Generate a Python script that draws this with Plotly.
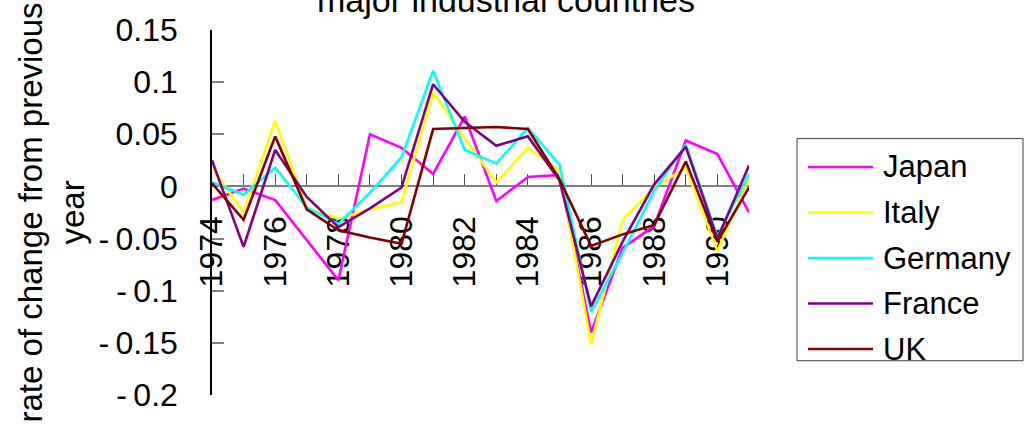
import plotly.graph_objects as go

# Annual rate of change from previous year, 1974-1991
years = list(range(1974, 1992))
countries = ["Japan", "Italy", "Germany", "France", "UK"]
colors = ["#FF00FF", "#FFFF00", "#00FFFF", "#800080", "#800000"]

japan = [-0.013, -0.002, -0.013, -0.052, -0.090, 0.050, 0.037, 0.012, 0.067,
         -0.014, 0.009, 0.011, -0.140, -0.059, -0.038, 0.044, 0.031, -0.025]
italy = [0.018, -0.025, 0.063, -0.021, -0.031, -0.022, -0.015, 0.090, 0.046,
         0.004, 0.037, 0.015, -0.151, -0.032, -0.001, 0.018, -0.062, 0.008]
germany = [0.004, -0.008, 0.018, -0.020, -0.036, -0.006, 0.028, 0.111, 0.035,
           0.022, 0.056, 0.021, -0.120, -0.064, -0.004, 0.040, -0.048, 0.012]
france = [0.025, -0.058, 0.035, -0.010, -0.039, -0.021, -0.001, 0.098, 0.062,
          0.039, 0.048, 0.006, -0.115, -0.053, 0.002, 0.038, -0.050, 0.020]
uk = [0.003, -0.032, 0.048, -0.022, -0.042, -0.049, -0.055, 0.055, 0.056,
      0.057, 0.055, 0.007, -0.057, -0.046, -0.037, 0.024, -0.053, -0.001]
series = [japan, italy, germany, france, uk]

x_tick_years = years[::2]               # 1974 ... 1990
x_tick_text = [str(y) for y in x_tick_years]
y_tick_vals = [0.15, 0.1, 0.05, 0, -0.05, -0.1, -0.15, -0.2]
y_tick_text = ["0.15", "0.1", "0.05", "0", "-\u20090.05", "-\u20090.1", "-\u20090.15", "-\u20090.2"]

title_text = "major industrial countries"
y_title = "rate of change from previous<br>year"

FONT = "Liberation Sans, Arial, sans-serif"
W, H = 1024, 427
ML, MR, MT, MB = 212, 275, 22, 32
PW, PH = W - ML - MR, H - MT - MB
Y_MIN, Y_MAX = -0.2, 0.15


def px_x(px):
    return (px - ML) / PW


def px_y(py):
    return (H - MB - py) / PH


fig = go.Figure()
for name, vals, col in zip(countries, series, colors):
    fig.add_trace(go.Scatter(x=years, y=vals, name=name, mode="lines",
                             line=dict(color=col, width=2.6),
                             showlegend=False))

fig.update_layout(
    width=W, height=H, autosize=False,
    margin=dict(l=ML, r=MR, t=MT, b=MB, pad=0),
    paper_bgcolor="white", plot_bgcolor="white",
    font=dict(family=FONT, color="black", size=32),
)

fig.update_xaxes(
    range=[years[0], years[-1]],
    anchor="free", position=(0 - Y_MIN) / (Y_MAX - Y_MIN),
    tickmode="array", tickvals=x_tick_years, ticktext=x_tick_text,
    tickangle=-90, tickfont=dict(size=32, family=FONT),
    ticks="inside", ticklen=11, tickwidth=1, tickcolor="#505050",
    minor=dict(dtick=1, tick0=years[0], ticks="inside", ticklen=11,
               tickwidth=1, tickcolor="#505050"),
    ticklabelstandoff=16,
    showline=True, linecolor="#808080", linewidth=2,
    showgrid=False, zeroline=False, layer="below traces",
)

fig.update_yaxes(
    range=[Y_MIN, Y_MAX],
    tickmode="array", tickvals=y_tick_vals, ticktext=y_tick_text,
    tickfont=dict(size=32, family=FONT),
    ticks="inside", ticklen=12, tickwidth=2, tickcolor="#808080",
    ticklabelstandoff=26,
    showline=True, linecolor="black", linewidth=1.5,
    showgrid=False, zeroline=False, layer="below traces",
)

annotations = [
    dict(text=title_text, xref="paper", yref="paper", x=px_x(506), y=1,
         xanchor="center", yanchor="bottom", yshift=9, showarrow=False,
         font=dict(size=34, family=FONT, color="black")),
    dict(text=y_title, xref="paper", yref="paper", x=px_x(51), y=0.5,
         xanchor="center", yanchor="middle", textangle=-90, showarrow=False,
         font=dict(size=33, family=FONT, color="black")),
]

# legend box with line samples
shapes = [dict(type="rect", xref="paper", yref="paper",
               x0=px_x(797), x1=px_x(1023), y0=px_y(360), y1=px_y(133),
               line=dict(color="#404040", width=1), fillcolor="white")]
for i, (name, col) in enumerate(zip(countries, colors)):
    yy = px_y(162 + i * 46.5)
    shapes.append(dict(type="line", xref="paper", yref="paper",
                       x0=px_x(808), x1=px_x(873), y0=yy, y1=yy,
                       line=dict(color=col, width=2.7)))
    annotations.append(dict(text=name, xref="paper", yref="paper",
                            x=px_x(881), y=yy, xanchor="left", yanchor="middle",
                            showarrow=False,
                            font=dict(size=31, family=FONT, color="black")))

fig.update_layout(annotations=annotations, shapes=shapes)
fig.write_html("out.html")
